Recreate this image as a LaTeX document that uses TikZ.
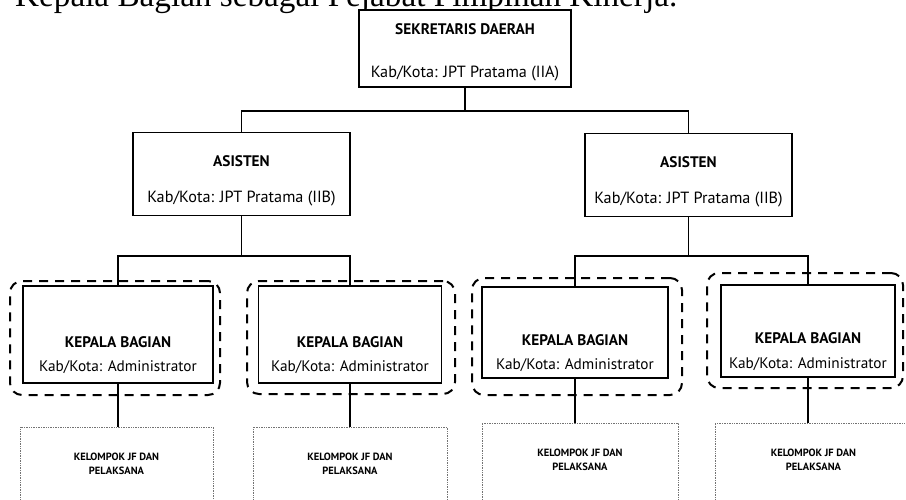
\documentclass[tikz,border=0pt]{standalone}
\usepackage{fontspec}
\usepackage{graphicx}
\setmainfont{Liberation Serif}
\setsansfont{PT Sans}
\usetikzlibrary{positioning}

\begin{document}
\begin{tikzpicture}[x=1pt,y=-1pt,
                    main box/.style={draw,line width=1.8pt,inner sep=0pt},
                    group box/.style={draw,line width=2pt,dash pattern=on 9pt off 7pt,rounded corners=12pt,inner sep=0pt},
                    jf box/.style={draw=black!55,line width=0.7pt,densely dotted,inner sep=0pt},
                    title/.style={anchor=base,inner sep=0pt,font=\sffamily\bfseries\fontsize{15.3}{17}\selectfont},
                    sub/.style={anchor=base,inner sep=0pt,font=\sffamily\fontsize{16.2}{18}\selectfont},
                    kb sub/.style={anchor=base,inner sep=0pt,font=\sffamily\fontsize{15.3}{17}\selectfont},
                    jf text/.style={align=center,inner sep=0pt,font=\sffamily\bfseries\fontsize{10.5}{13.5}\selectfont},
                    link/.style={line width=1.8pt}]
 \useasboundingbox (0,0) rectangle (906,499);
 \clip (0,0) rectangle (906,499);

 \node[anchor=base west,inner sep=0pt,font=\rmfamily] (head) at (15,6) {\resizebox{662pt}{!}{Kepala Bagian sebagai Pejabat Pimpinan Kinerja.}};

 % sekretaris daerah
 \node[main box,fill=white,minimum width=212pt,minimum height=77pt] (sek) at (465,48.5) {};
 \node[title] (sekT) at (465,34) {SEKRETARIS DAERAH};
 \node[sub] (sekS) at (465,77) {Kab/Kota: JPT Pratama (IIA)};

 % asisten
 \foreach \i/\x/\w/\y in {1/241.5/217/174,2/688.5/207/175}
 {
  \node[main box,minimum width=\w pt,minimum height=83pt] (as\i) at (\x,\y) {};
  \node[title] (as\i T) at (\x,\y-8) {ASISTEN};
  \node[sub] (as\i S) at (\x,\y+28) {Kab/Kota: JPT Pratama (IIB)};
 }

 \coordinate (bus1) at (465,111);
 \coordinate (bus2) at (241.5,256);
 \coordinate (bus3) at (688.5,256);

 % kepala bagian dan kelompok JF
 \foreach \i/\x/\y/\w/\h/\gx/\gy/\gw/\gh/\kl/\kr/\kt in {
   1/118/334.5/190/97/115/338/210/114/20/213/427,
   2/350/334.5/183/97/351/337.5/208/113/253/447/427,
   3/575/332.5/186/91/577/336.5/210/117/482/678/423,
   4/808/331/174/92/805/330.5/196/115/715/912/423}
 {
  \node[group box,minimum width=\gw pt,minimum height=\gh pt] (kg\i) at (\gx,\gy) {};
  \node[main box,fill=white,minimum width=\w pt,minimum height=\h pt] (kb\i) at (\x,\y) {};
  \node[title] (kb\i T) at (\x,\y+12.5) {KEPALA BAGIAN};
  \node[kb sub] (kb\i S) at (\x,\y+37) {Kab/Kota: Administrator};
  \node[jf box,minimum width=\kr pt-\kl pt,minimum height=110pt] (kj\i) at ({(\kl+\kr)/2},\kt+55) {};
  \node[jf text] (kj\i T) at ({(\kl+\kr)/2},\kt+37) {KELOMPOK JF DAN\\PELAKSANA};
  \draw[link] (kb\i.south) -- (kb\i.south |- kj\i.north);
 }

 \draw[link] (sek.south) -- (bus1);
 \draw[link] (as1.north) |- (bus1) -| (as2.north);
 \draw[link] (as1.south) -- (bus2);
 \draw[link] (as2.south) -- (bus3);
 \draw[link] (kb1.north) |- (bus2) -| (kb2.north);
 \draw[link] (kb3.north) |- (bus3) -| (kb4.north);

\end{tikzpicture}
\end{document}
